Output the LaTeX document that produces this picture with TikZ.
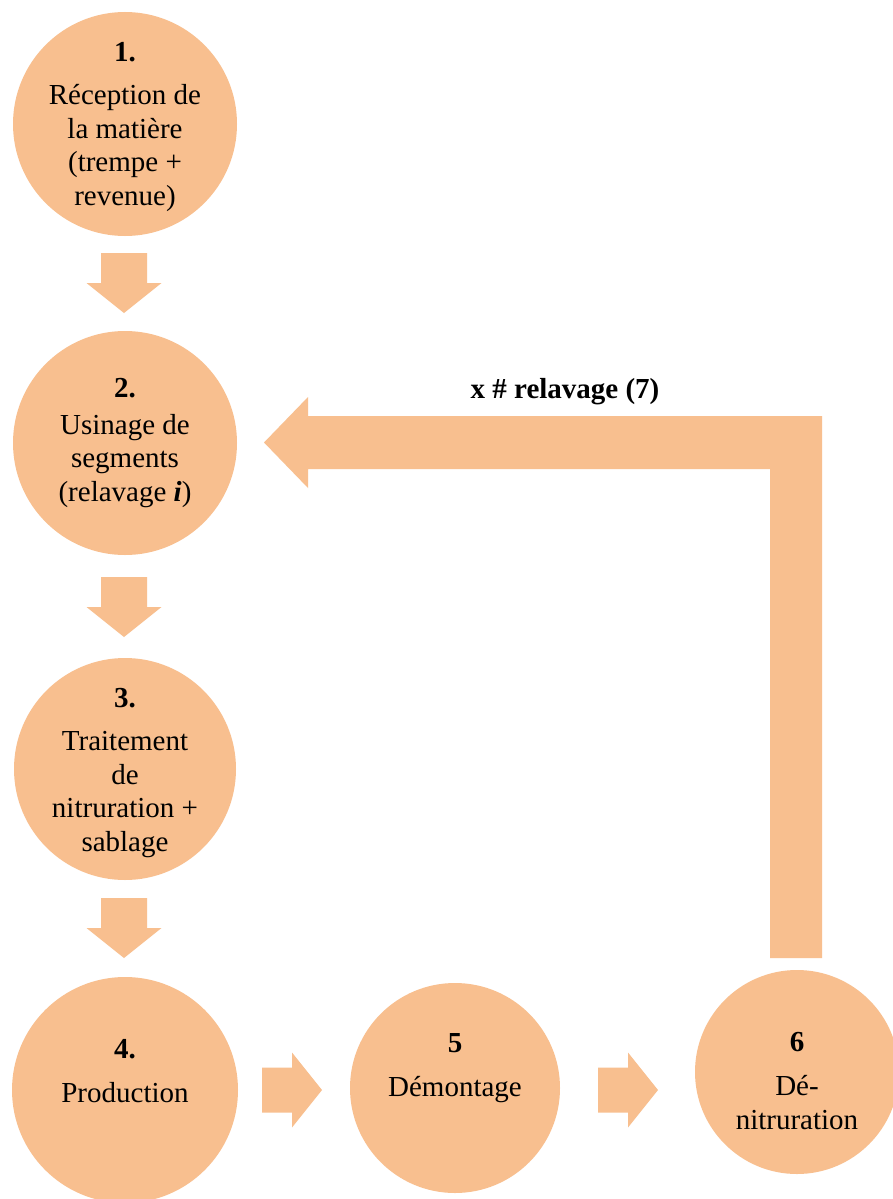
\documentclass[tikz,border=0pt]{standalone}
\usepackage{fontspec}
\setmainfont{Liberation Serif}
\definecolor{peach}{HTML}{F8BF8F}
\tikzset{
  stepcircle/.style={circle, fill=peach, draw=none, inner sep=0pt},
  steptext/.style={align=center, inner sep=0pt, font=\fontsize{29}{33.5}\selectfont, text=black},
  downblk/.pic={\fill[peach] (-23,-30) -- (23,-30) -- (23,0) -- (37.5,0) -- (0,30) -- (-37.5,0) -- (-23,0) -- cycle;},
  rightblk/.pic={\fill[peach] (-30,-22.5) -- (0,-22.5) -- (0,-37.5) -- (30,0) -- (0,37.5) -- (0,22.5) -- (-30,22.5) -- cycle;}
}
\begin{document}
\begin{tikzpicture}[x=1pt, y=-1pt]
\useasboundingbox (0,0) rectangle (893,1199);
\clip (0,0) rectangle (893,1199);
\fill[white] (0,0) rectangle (893,1199);

% circles
\node[stepcircle, minimum size=224pt] (c1) at (125,124) {};
\node[stepcircle, minimum size=224pt] (c2) at (125,443) {};
\node[stepcircle, minimum size=222pt] (c3) at (125,769) {};
\node[stepcircle, minimum size=226pt] (c4) at (125,1090) {};
\node[stepcircle, minimum size=210pt] (c5) at (455,1088) {};
\node[stepcircle, minimum size=204pt] (c6) at (797,1072) {};

% texts
\node[steptext] (t1) at (125,127) {\textbf{1.}\\[10pt]Réception de\\la matière\\(trempe +\\revenue)};
\node[steptext] (t2) at (125,443) {\textbf{2.}\\[3pt]Usinage de\\segments\\(relavage \textbf{\textit{i}})};
\node[steptext] (t3) at (125,773) {\textbf{3.}\\[10pt]Traitement\\de\\nitruration +\\sablage};
\node[steptext] (t4) at (125,1071) {\textbf{4.}\\[11pt]Production};
\node[steptext] (t5) at (455,1068) {\textbf{5}\\[11pt]Démontage};
\node[steptext] (t6) at (797,1081) {\textbf{6}\\[11pt]Dé-\\nitruration};

% straight block arrows
\pic at (124,283) {downblk};
\pic at (124,607) {downblk};
\pic at (124,928) {downblk};
\pic at (292,1090) {rightblk};
\pic at (628,1090) {rightblk};

% bent return arrow
\coordinate (bendfoot) at (796,958);
\fill[peach] (822,958) -- (822,416) -- (308,416) -- (308,397) -- (264,442.5)
  -- (308,488) -- (308,469) -- (770,469) -- (770,958) -- cycle;
\node[steptext, font=\bfseries\fontsize{29}{33.5}\selectfont] (lbl) at (565,392) {x \# relavage (7)};
\end{tikzpicture}
\end{document}
